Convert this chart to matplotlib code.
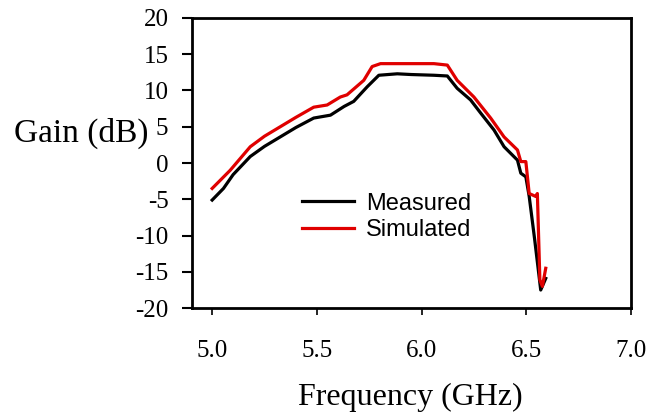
import matplotlib
matplotlib.use("Agg")
import matplotlib.pyplot as plt

# measured gain (black)
freq_meas = [5.0, 5.054, 5.10, 5.182, 5.25, 5.325, 5.40, 5.485, 5.565, 5.63, 5.676,
             5.74, 5.796, 5.884, 5.95, 6.059, 6.123, 6.17, 6.234, 6.282, 6.346,
             6.394, 6.458, 6.474, 6.498, 6.514, 6.54, 6.569, 6.593]
gain_meas = [-5.1, -3.5, -1.6, 0.9, 2.3, 3.6, 4.9, 6.2, 6.6, 7.8, 8.5,
             10.5, 12.1, 12.3, 12.2, 12.1, 12.0, 10.3, 8.7, 6.9, 4.55,
             2.25, 0.4, -1.4, -1.9, -4.6, -10.5, -17.5, -15.9]

# simulated gain (red)
freq_sim = [5.0, 5.086, 5.182, 5.25, 5.325, 5.40, 5.485, 5.549, 5.612, 5.644, 5.724,
            5.764, 5.804, 5.884, 5.95, 6.059, 6.123, 6.17, 6.25, 6.33, 6.394,
            6.458, 6.474, 6.498, 6.514, 6.545, 6.553, 6.565, 6.577, 6.593]
gain_sim = [-3.5, -1.0, 2.25, 3.7, 5.0, 6.3, 7.7, 8.0, 9.1, 9.4, 11.4,
            13.3, 13.7, 13.7, 13.7, 13.7, 13.5, 11.4, 9.1, 6.2, 3.6,
            1.8, 0.2, 0.2, -4.2, -4.6, -4.2, -16.1, -17.0, -14.5]

x_ticks = [5.0, 5.5, 6.0, 6.5, 7.0]
y_ticks = [-20, -15, -10, -5, 0, 5, 10, 15, 20]

plt.rcParams['axes.unicode_minus'] = False
serif = 'Liberation Serif'

fig = plt.figure(figsize=(6.6, 4.17), dpi=100)
ax = fig.add_axes([0.291, 0.261, 0.665, 0.696])

ax.plot(freq_meas, gain_meas, color='black', lw=2.3, label='Measured')
ax.plot(freq_sim, gain_sim, color='#e00000', lw=2.3, label='Simulated')

ax.set_xlim(4.904, 7.0)
ax.set_ylim(-20, 20)
ax.set_xticks(x_ticks)
ax.set_xticklabels([f"{v:.1f}" for v in x_ticks], family=serif, fontsize=18)
ax.set_yticks(y_ticks)
ax.set_yticklabels([str(v) for v in y_ticks], family=serif, fontsize=18)
ax.tick_params(axis='x', direction='out', length=5, width=1.2, pad=18)
ax.tick_params(axis='y', direction='out', length=7, width=1.5, pad=10)
for s in ax.spines.values():
    s.set_linewidth(2.0)

fig.text(148 / 660, 1 - 133 / 417, "Gain (dB)", family=serif, fontsize=24,
         ha='right', va='center')
fig.text(410 / 660, 1 - 397 / 417, "Frequency (GHz)", family=serif, fontsize=23,
         ha='center', va='center')

ax.legend(loc='center left', bbox_to_anchor=(0.2506, 0.314), frameon=False,
          borderpad=0, borderaxespad=0, handlelength=2.2, handletextpad=0.5,
          labelspacing=0.2, prop={'family': 'Liberation Sans', 'size': 17})

fig.savefig("out.png", dpi=100)
